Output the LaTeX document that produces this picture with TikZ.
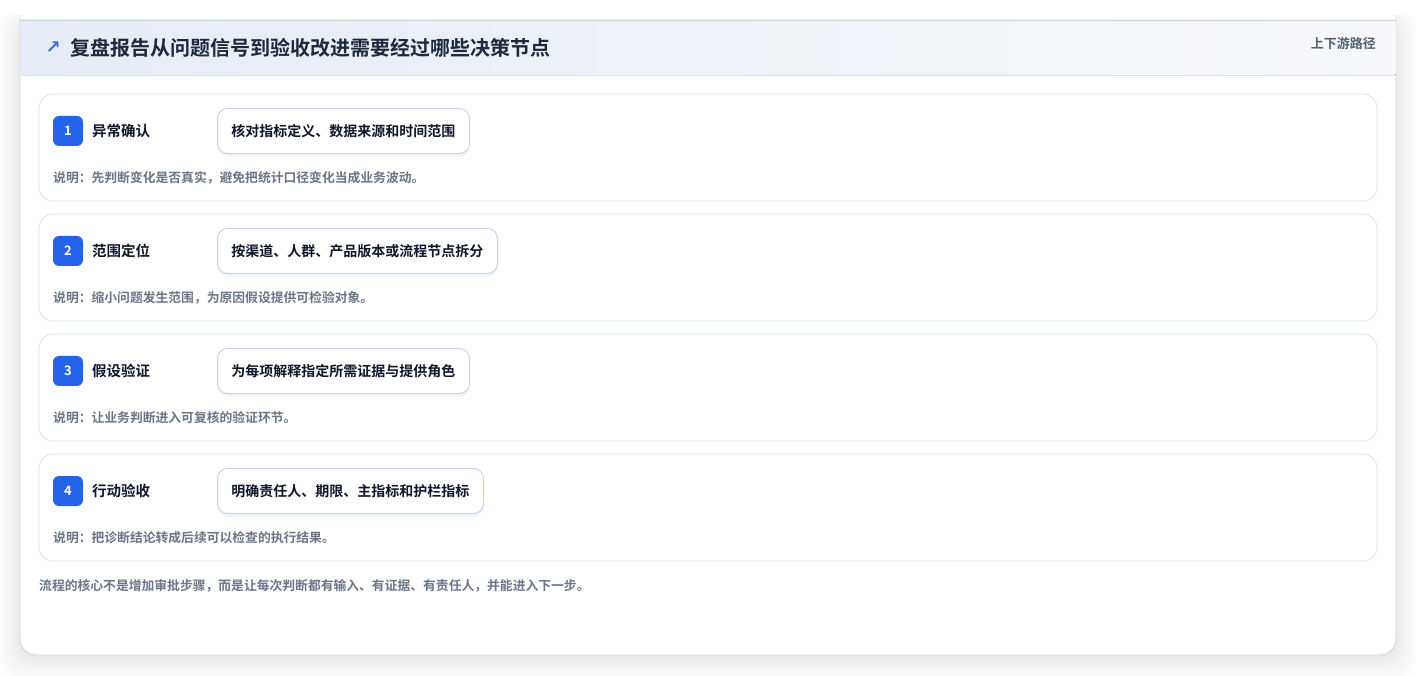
\documentclass[tikz,border=0pt]{standalone}
\usepackage{fontspec}
\setmainfont{Noto Sans CJK SC}[BoldFont={Noto Sans CJK SC Bold}]
\newfontfamily\symfont{DejaVu Sans}
\usepackage{tikz}
\usetikzlibrary{positioning}

\definecolor{panelline}{HTML}{CDD6E2}
\definecolor{headleft}{HTML}{E6ECF5}
\definecolor{headright}{HTML}{F6F8FB}
\definecolor{headline}{HTML}{D8E3F1}
\definecolor{cardline}{HTML}{DCE6F2}
\definecolor{taskline}{HTML}{C3D5EE}
\definecolor{taskshadow}{HTML}{F0F3F8}
\definecolor{badgeblue}{HTML}{2563EB}
\definecolor{iconblue}{HTML}{3B6FD8}
\definecolor{titleink}{HTML}{1E293B}
\definecolor{labelink}{HTML}{0F172A}
\definecolor{noteink}{HTML}{6B7687}
\definecolor{tagink}{HTML}{556172}

\begin{document}
\begin{tikzpicture}[x=1pt, y=-1pt,
    card/.style={draw=cardline, line width=0.9pt, fill=white, rounded corners=14pt,
        minimum width=1338pt, minimum height=107pt},
    badge/.style={fill=badgeblue, rounded corners=6pt, minimum size=30pt, inner sep=0pt,
        text=white, font=\fontsize{13}{13}\selectfont\bfseries},
    steplabel/.style={inner sep=0pt, text=labelink, font=\fontsize{14.5}{15}\selectfont\bfseries},
    taskbox/.style={draw=taskline, line width=0.9pt, fill=white, rounded corners=10pt,
        minimum height=45pt, inner xsep=14pt, text=labelink,
        font=\fontsize{14}{14}\selectfont\bfseries,
        preaction={fill=taskshadow, transform canvas={yshift=-3pt}}},
    note/.style={inner sep=0pt, text=noteink, font=\fontsize{12.8}{13}\selectfont\bfseries},
    title/.style={inner sep=0pt, text=titleink, font=\fontsize{20}{20}\selectfont\bfseries},
    tag/.style={inner sep=0pt, text=tagink, font=\fontsize{13}{13}\selectfont\bfseries}
]
\useasboundingbox (0,0) rectangle (1417,676);
\fill[white] (0,0) rectangle (1417,676);

\begin{scope}
\clip (0,16) rectangle (1417,676);
% Panel shadow
\foreach \s in {1,...,20} {
    \fill[black, opacity=0.0045, rounded corners=18pt] (20-\s,26-\s) rectangle (1396+\s,659+\s);
}
% Panel
\fill[white, draw=panelline, line width=0.9pt, rounded corners=16pt] (20,0) rectangle (1396,655);
\end{scope}

% Header band
\fill[left color=headleft, right color=headright] (20.5,20) rectangle (1395.5,75);
\draw[headline, line width=0.9pt] (20.5,75) -- (1395.5,75);
\draw[panelline, line width=0.9pt] (20,20) -- (1396,20);

\node[title, anchor=west] (title) at (70,48) {复盘报告从问题信号到验收改进需要经过哪些决策节点};
\node[inner sep=0pt, text=iconblue, font=\symfont\fontsize{18}{18}\selectfont\bfseries, left=9pt of title] (icon) {↗};
\node[tag, anchor=east] (tag) at (1376,44) {上下游路径};

% Decision steps
\foreach \i/\name/\task/\remark in {
    1/异常确认/核对指标定义、数据来源和时间范围/说明：先判断变化是否真实，避免把统计口径变化当成业务波动。,
    2/范围定位/按渠道、人群、产品版本或流程节点拆分/说明：缩小问题发生范围，为原因假设提供可检验对象。,
    3/假设验证/为每项解释指定所需证据与提供角色/说明：让业务判断进入可复核的验证环节。,
    4/行动验收/明确责任人、期限、主指标和护栏指标/说明：把诊断结论转成后续可以检查的执行结果。} {
    \pgfmathsetmacro{\y}{131+120*(\i-1)}
    \node[card] (card\i) at (708,\y+16.5) {};
    \node[badge] (badge\i) at (68,\y) {\i};
    \node[steplabel, anchor=west] (step\i) at (92,\y) {\name};
    \node[taskbox, anchor=west] (task\i) at (217,\y) {\task};
    \node[note, anchor=west] (note\i) at (53,\y+47) {\remark};
}

% Summary line
\node[note, anchor=west] (summary) at (39,586) {流程的核心不是增加审批步骤，而是让每次判断都有输入、有证据、有责任人，并能进入下一步。};

\end{tikzpicture}
\end{document}
